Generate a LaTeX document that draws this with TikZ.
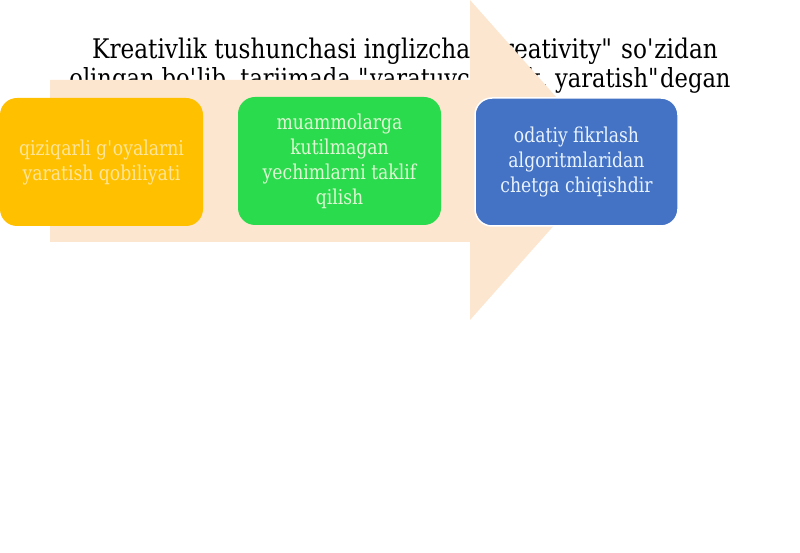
\documentclass[tikz,border=0pt]{standalone}
\usepackage{fontspec}
\newfontfamily\titlefont[FakeStretch=0.86]{DejaVu Serif}
\newfontfamily\boxfont[FakeStretch=0.84]{DejaVu Serif}
\definecolor{peach}{HTML}{FDE6CF}
\definecolor{gold}{HTML}{FFC000}
\definecolor{lgreen}{HTML}{2ADB4E}
\definecolor{oblue}{HTML}{4472C4}
\definecolor{ytext}{HTML}{FFE59A}
\definecolor{gtext}{HTML}{DDF8D2}
\definecolor{btext}{HTML}{E8F3FF}
\tikzset{
  titleline/.style={anchor=base, inner sep=0pt, font=\titlefont\fontsize{27}{29}\selectfont, text=black},
  card/.style={rounded corners=17pt, minimum width=203pt, minimum height=128pt, inner sep=0pt,
     align=center, font=\boxfont\fontsize{20.5}{25}\selectfont},
  bigarrow/.style={fill=peach, draw=none}
}
\begin{document}
\begin{tikzpicture}[x=1pt,y=-1pt]
\useasboundingbox[fill=white] (0,0) rectangle (800,553);
% title text (partly covered by the arrow)
\node[titleline] (t1) at (405,59) {Kreativlik tushunchasi inglizcha \textquotedbl creativity\textquotedbl{} so\textquotesingle zidan};
\node[titleline, font=\titlefont\fontsize{26.3}{29}\selectfont] (t2) at (400,88) {olingan bo\textquotesingle lib, tarjimada \textquotedbl yaratuvchanlik, yaratish\textquotedbl degan};
% big background arrow
\coordinate (sa) at (50,80);
\coordinate (sb) at (470,80);
\coordinate (ht) at (470,0);
\coordinate (tip) at (612,160);
\coordinate (hb) at (470,320);
\coordinate (sc) at (470,242);
\coordinate (sd) at (50,242);
\fill[bigarrow] (sa) -- (sb) -- (ht) -- (tip) -- (hb) -- (sc) -- (sd) -- cycle;
% cards
\node[card, fill=gold, text=ytext] (c1) at (101.5,162) {qiziqarli g\textquotesingle oyalarni\\yaratish qobiliyati};
\node[card, fill=lgreen, text=gtext] (c2) at (339.5,161) {muammolarga\\kutilmagan\\yechimlarni taklif\\qilish};
\node[card, fill=oblue, draw=white, line width=1.5pt, text=btext] (c3) at (576.5,162) {odatiy fikrlash\\algoritmlaridan\\chetga chiqishdir};
\end{tikzpicture}
\end{document}
